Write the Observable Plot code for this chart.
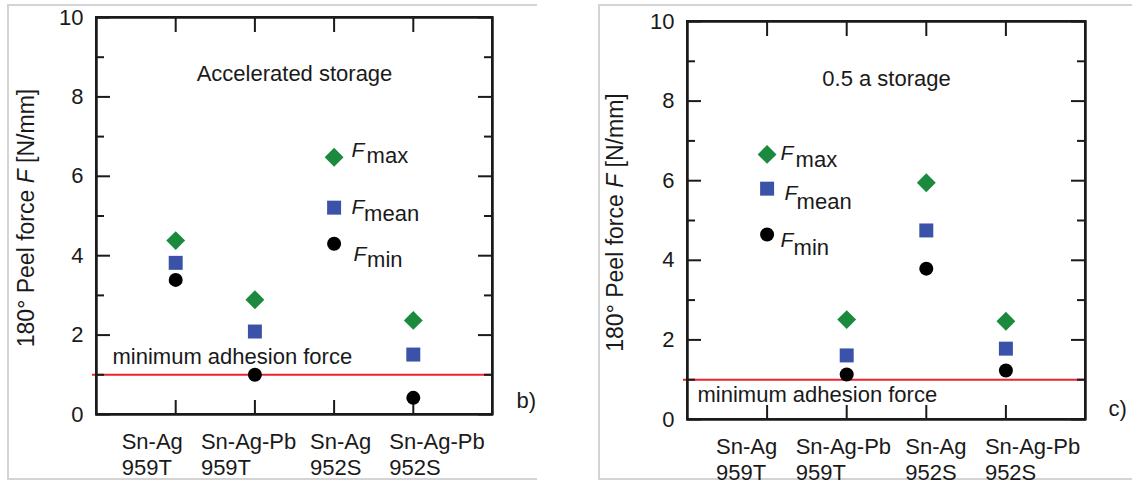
<!DOCTYPE html>
<html><head><meta charset="utf-8">
<script src="https://cdn.jsdelivr.net/npm/d3@7"></script>
<script src="https://cdn.jsdelivr.net/npm/@observablehq/plot@0.6"></script>
<style>
html,body{margin:0;padding:0;background:#fff;overflow:hidden;}
#wrap{position:relative;width:1132px;height:485px;overflow:hidden;font-family:"Liberation Sans",Arial,sans-serif;}
.box{position:absolute;border-top:2px solid #d4d4d4;border-bottom:2px solid #d4d4d4;border-left:2px solid #d4d4d4;}
#b1{left:7px;top:4px;width:528px;height:472px;}
#b2{left:598px;top:4px;width:532px;height:472px;}
.panel{position:absolute;top:0;}
#p1{left:0;} #p2{left:570px;}
.frame{position:absolute;box-sizing:border-box;border:2px solid #1a1a1a;pointer-events:none;}
</style></head>
<body><div id="wrap"><div class="box" id="b1"></div><div class="box" id="b2"></div><div class="panel" id="p1"></div><div class="panel" id="p2"></div></div>
<script>
// ---- data ----
const categories = ["Sn-Ag\n959T", "Sn-Ag-Pb\n959T", "Sn-Ag\n952S", "Sn-Ag-Pb\n952S"];
const yTicks = [0, 2, 4, 6, 8, 10];
const yMinorTicks = [1, 3, 5, 7, 9];
const minAdhesion = 1.0;
const seriesNames = ["max", "mean", "min"];
const yLabel = "180° Peel force F [N/mm]";
const lineLabel = "minimum adhesion force";

// b) accelerated storage
const accTitle = "Accelerated storage";
const accMax  = [4.38, 2.89, null, 2.37];
const accMean = [3.82, 2.09, null, 1.51];
const accMin  = [3.39, 1.00, null, 0.42];
const accLegendCategory = categories[2];
const accLegendValues = [6.48, 5.21, 4.30];

// c) 0.5 a storage
const halfTitle = "0.5 a storage";
const halfMax  = [null, 2.51, 5.95, 2.47];
const halfMean = [null, 1.61, 4.75, 1.78];
const halfMin  = [null, 1.13, 3.79, 1.23];
const halfLegendCategory = categories[0];
const halfLegendValues = [6.66, 5.80, 4.65];

// ---- styles ----
const FONT = '"Liberation Sans", Arial, Helvetica, sans-serif';
const INK = "#1a1a1a";
const markerStyle = [
  {symbol: "diamond2", fill: "#1b8a3e", r: 8.5},
  {symbol: "square2", fill: "#3a52a8", r: 8.9},
  {symbol: "circle", fill: "#000000", r: 7}
];
// category -> slot on the x axis (1..n, with one empty slot at each side)
const slot = c => categories.indexOf(c) + 1;
const xDomain = [0, categories.length + 1];

function panel(cfg, host) {
  const W = cfg.width - cfg.ml - cfg.mr;
  const H = cfg.height - cfg.mt - cfg.mb;
  const series = [cfg.max, cfg.mean, cfg.min];
  const marks = [];
  const lineW = 2;
  // red minimum line
  marks.push(Plot.ruleY([minAdhesion], {y: d => d, stroke: "#e8262c", strokeWidth: 2, insetLeft: -4}));
  // frame (box)
  marks.push(Plot.frame({stroke: INK, strokeWidth: lineW}));
  marks.push(Plot.ruleY([0, 10], {y: d => d, stroke: INK, strokeWidth: lineW, insetLeft: -1, insetRight: -1}));
  marks.push(Plot.ruleX(xDomain, {x: d => d, stroke: INK, strokeWidth: lineW, insetTop: -1, insetBottom: -1}));
  // x ticks top/bottom (inward)
  marks.push(Plot.tickX(categories, {x: slot, stroke: INK, strokeWidth: lineW, insetBottom: H - 15}));
  marks.push(Plot.tickX(categories, {x: slot, stroke: INK, strokeWidth: lineW, insetTop: H - 14}));
  // y ticks left/right (inward)
  marks.push(Plot.tickY(yTicks, {y: d => d, stroke: INK, strokeWidth: lineW, insetRight: W - 14}));
  marks.push(Plot.tickY(yMinorTicks, {y: d => d, stroke: INK, strokeWidth: lineW, insetRight: W - 8}));
  marks.push(Plot.tickY(yTicks, {y: d => d, stroke: INK, strokeWidth: lineW, insetLeft: W - 14}));
  marks.push(Plot.tickY(yMinorTicks, {y: d => d, stroke: INK, strokeWidth: lineW, insetLeft: W - 8}));
  // y tick labels
  marks.push(Plot.text(yTicks, {y: d => d, frameAnchor: "left", text: d => String(d), textAnchor: "end", dx: -13, fontSize: 22, fill: INK}));
  // x tick labels (two left-aligned lines; the row is spread a bit wider than the ticks)
  const half = Math.ceil(categories.length / 2);
  [[categories.slice(0, half), cfg.tickDx[0]], [categories.slice(half), cfg.tickDx[1]]].forEach(([cats, dx]) => {
    marks.push(Plot.text(cats, {x: slot, frameAnchor: "bottom", text: d => d, textAnchor: "start", lineAnchor: "top", lineHeight: 1.18, dx, dy: 16.5, fontSize: 22, fill: INK}));
  });
  // y label
  marks.push(Plot.text([yLabel], {frameAnchor: "left", text: d => d, rotate: -90, dx: cfg.yLabelDx, dy: 2, fontSize: 23, textAnchor: "middle", lineAnchor: "middle", fill: INK}));
  // title
  marks.push(Plot.text([cfg.title], {frameAnchor: "top", text: d => d, lineAnchor: "bottom", dy: cfg.titleDy, fontSize: 22, fill: INK}));
  // minimum line label
  marks.push(Plot.text([minAdhesion], {frameAnchor: "left", y: d => d, text: () => lineLabel, textAnchor: "start", lineAnchor: "bottom", dx: cfg.lineDx, dy: cfg.lineDy, fontSize: 22, fill: INK}));
  // panel letter
  marks.push(Plot.text([cfg.letter], {frameAnchor: "bottom-right", text: d => d, textAnchor: "start", lineAnchor: "middle", dx: cfg.letterDx, dy: cfg.letterDy, fontSize: 22, fill: INK}));
  // data points
  series.forEach((arr, k) => {
    const data = categories.map((c, i) => ({c, v: arr[i]})).filter(d => d.v != null);
    marks.push(Plot.dot(data, {x: d => slot(d.c), y: "v", symbol: markerStyle[k].symbol, fill: markerStyle[k].fill, r: markerStyle[k].r, stroke: "none"}));
  });
  // legend
  cfg.legendVals.forEach((v, k) => {
    const o = cfg.legendOffsets[k];
    const lx = () => slot(cfg.legendCat);
    marks.push(Plot.dot([v], {x: lx, y: d => d, symbol: markerStyle[k].symbol, fill: markerStyle[k].fill, r: markerStyle[k].r, stroke: "none"}));
    marks.push(Plot.text([v], {x: lx, y: d => d, text: () => "F", fontStyle: "italic", textAnchor: "start", lineAnchor: "bottom", dx: o[0], dy: o[1], fontSize: 21, fill: INK}));
    marks.push(Plot.text([v], {x: lx, y: d => d, text: () => seriesNames[k], textAnchor: "start", lineAnchor: "bottom", dx: o[2], dy: o[3], fontSize: 22, fill: INK}));
  });

  const svg = Plot.plot({
    width: cfg.width, height: cfg.height,
    marginLeft: cfg.ml, marginRight: cfg.mr, marginTop: cfg.mt, marginBottom: cfg.mb,
    style: {fontFamily: FONT, color: INK, background: "transparent", overflow: "visible"},
    x: {type: "linear", domain: xDomain, axis: null},
    y: {type: "linear", domain: [0, 10], axis: null},
    marks
  });
  // italic F in the y label
  svg.querySelectorAll("text").forEach(t => {
    if (t.textContent === yLabel) {
      t.textContent = "";
      const parts = [["180° Peel force ", null], ["F", "italic"], [" [N/mm]", null]];
      parts.forEach(([s, st]) => {
        const ts = document.createElementNS("http://www.w3.org/2000/svg", "tspan");
        ts.textContent = s;
        if (st) ts.setAttribute("font-style", st);
        t.appendChild(ts);
      });
    }
  });
  host.appendChild(svg);
  // plot-area outline, aligned on the plot's own frame (from its margins)
  const fr = document.createElement("div");
  fr.className = "frame";
  fr.style.left = (cfg.ml - 1) + "px";
  fr.style.top = (cfg.mt - 1) + "px";
  fr.style.width = (W + 2) + "px";
  fr.style.height = (H + 2) + "px";
  host.appendChild(fr);
}

panel({
  width: 560, height: 485, ml: 96, mr: 68, mt: 17, mb: 71,
  max: accMax, mean: accMean, min: accMin,
  legendCat: accLegendCategory, legendVals: accLegendValues,
  legendOffsets: [[17.5, 0, 32.5, 6], [17.5, 6, 30, 13], [19.5, 17, 33, 23]],
  title: accTitle, titleDy: 63,
  lineDx: 16, lineDy: -11,
  letter: "b)", letterDx: 24, letterDy: -14,
  tickDx: [-54, -24], yLabelDx: -70
}, document.getElementById("p1"));

panel({
  width: 562, height: 485, ml: 117, mr: 47, mt: 21, mb: 66,
  max: halfMax, mean: halfMean, min: halfMin,
  legendCat: halfLegendCategory, legendVals: halfLegendValues,
  legendOffsets: [[13.5, 6, 28.5, 12.5], [17.5, 11.5, 29.5, 20], [13.5, 12.5, 26.5, 21]],
  title: halfTitle, titleDy: 64,
  lineDx: 10, lineDy: 22,
  letter: "c)", letterDx: 23, letterDy: -11,
  tickDx: [-51, -21], yLabelDx: -72
}, document.getElementById("p2"));
</script>
</body></html>
